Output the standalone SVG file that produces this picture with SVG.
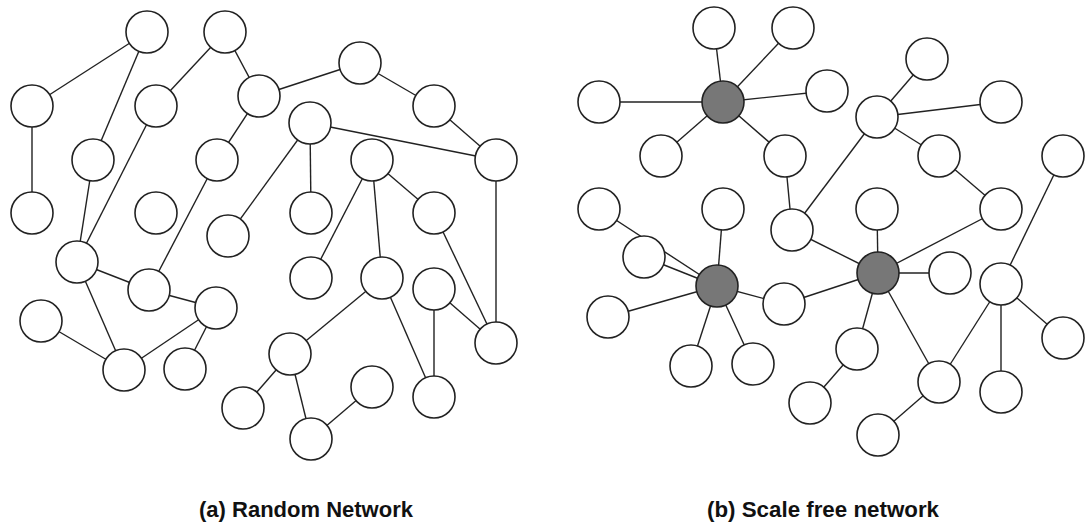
<svg xmlns="http://www.w3.org/2000/svg" width="1086" height="527" viewBox="0 0 1086 527">
<style>
.e{stroke:#222;stroke-width:1.4;fill:none}
.n circle{fill:#fff;stroke:#222;stroke-width:1.6}
.n circle.h{fill:#777}
.t{font-family:"Liberation Sans",Arial,sans-serif;font-weight:bold;font-size:22px;fill:#111}
</style>
<rect width="1086" height="527" fill="#fff"/>
<g id="connectors" class="e">
<!-- (a) -->
<line x1="147" y1="32" x2="32" y2="106"/>
<line x1="32" y1="106" x2="32" y2="213"/>
<line x1="147" y1="32" x2="93" y2="160"/>
<line x1="225" y1="32" x2="156" y2="106"/>
<line x1="225" y1="32" x2="259" y2="96"/>
<line x1="156" y1="106" x2="77" y2="262"/>
<line x1="93" y1="160" x2="77" y2="262"/>
<line x1="259" y1="96" x2="217" y2="160"/>
<line x1="217" y1="160" x2="149" y2="290"/>
<line x1="228" y1="236" x2="310" y2="123"/>
<line x1="259" y1="96" x2="360" y2="63"/>
<line x1="360" y1="63" x2="434" y2="106"/>
<line x1="434" y1="106" x2="496" y2="160"/>
<line x1="310" y1="123" x2="496" y2="160"/>
<line x1="310" y1="123" x2="311" y2="213"/>
<line x1="372" y1="160" x2="434" y2="213"/>
<line x1="372" y1="160" x2="311" y2="278"/>
<line x1="372" y1="160" x2="382" y2="278"/>
<line x1="496" y1="160" x2="496" y2="343"/>
<line x1="434" y1="213" x2="496" y2="343"/>
<line x1="434" y1="289" x2="434" y2="397"/>
<line x1="434" y1="289" x2="496" y2="343"/>
<line x1="382" y1="278" x2="434" y2="397"/>
<line x1="382" y1="278" x2="290" y2="354"/>
<line x1="290" y1="354" x2="311" y2="439"/>
<line x1="372" y1="387" x2="311" y2="439"/>
<line x1="290" y1="354" x2="243" y2="408"/>
<line x1="77" y1="262" x2="149" y2="290"/>
<line x1="77" y1="262" x2="124" y2="370"/>
<line x1="149" y1="290" x2="216" y2="308"/>
<line x1="216" y1="308" x2="124" y2="370"/>
<line x1="216" y1="308" x2="185" y2="369"/>
<line x1="41" y1="321" x2="124" y2="370"/>
<!-- (b) -->
<line x1="723" y1="102" x2="714" y2="28"/>
<line x1="723" y1="102" x2="793" y2="28"/>
<line x1="723" y1="102" x2="827" y2="91"/>
<line x1="723" y1="102" x2="599" y2="102"/>
<line x1="723" y1="102" x2="661" y2="156"/>
<line x1="723" y1="102" x2="785" y2="156"/>
<line x1="785" y1="156" x2="792" y2="230"/>
<line x1="792" y1="230" x2="877" y2="117"/>
<line x1="877" y1="117" x2="927" y2="59"/>
<line x1="877" y1="117" x2="1001" y2="102"/>
<line x1="877" y1="117" x2="939" y2="156"/>
<line x1="939" y1="156" x2="1001" y2="209"/>
<line x1="1001" y1="209" x2="878" y2="273"/>
<line x1="877" y1="209" x2="878" y2="273"/>
<line x1="1063" y1="156" x2="1001" y2="284"/>
<line x1="599" y1="209" x2="717" y2="286"/>
<line x1="723" y1="209" x2="717" y2="286"/>
<line x1="644" y1="257" x2="717" y2="286"/>
<line x1="608" y1="317" x2="717" y2="286"/>
<line x1="717" y1="286" x2="784" y2="304"/>
<line x1="717" y1="286" x2="691" y2="366"/>
<line x1="717" y1="286" x2="753" y2="364"/>
<line x1="784" y1="304" x2="878" y2="273"/>
<line x1="792" y1="230" x2="878" y2="273"/>
<line x1="878" y1="273" x2="950" y2="273"/>
<line x1="878" y1="273" x2="857" y2="349"/>
<line x1="878" y1="273" x2="939" y2="382"/>
<line x1="857" y1="349" x2="810" y2="403"/>
<line x1="939" y1="382" x2="878" y2="435"/>
<line x1="939" y1="382" x2="1001" y2="284"/>
<line x1="1001" y1="284" x2="1001" y2="392"/>
<line x1="1001" y1="284" x2="1063" y2="338"/>
</g>
<g class="n">
<g id="a1"><circle cx="147" cy="32" r="21"/></g>
<g id="a2"><circle cx="225" cy="32" r="21"/></g>
<g id="a3"><circle cx="32" cy="106" r="21"/></g>
<g id="a4"><circle cx="156" cy="106" r="21"/></g>
<g id="a5"><circle cx="259" cy="96" r="21"/></g>
<g id="a6"><circle cx="93" cy="160" r="21"/></g>
<g id="a7"><circle cx="217" cy="160" r="21"/></g>
<g id="a8"><circle cx="32" cy="213" r="21"/></g>
<g id="a9"><circle cx="156" cy="213" r="21"/></g>
<g id="a10"><circle cx="228" cy="236" r="21"/></g>
<g id="a11"><circle cx="77" cy="262" r="21"/></g>
<g id="a12"><circle cx="149" cy="290" r="21"/></g>
<g id="a13"><circle cx="216" cy="308" r="21"/></g>
<g id="a14"><circle cx="41" cy="321" r="21"/></g>
<g id="a15"><circle cx="124" cy="370" r="21"/></g>
<g id="a16"><circle cx="185" cy="369" r="21"/></g>
<g id="a17"><circle cx="243" cy="408" r="21"/></g>
<g id="a18"><circle cx="360" cy="63" r="21"/></g>
<g id="a19"><circle cx="434" cy="106" r="21"/></g>
<g id="a20"><circle cx="310" cy="123" r="21"/></g>
<g id="a21"><circle cx="372" cy="160" r="21"/></g>
<g id="a22"><circle cx="496" cy="160" r="21"/></g>
<g id="a23"><circle cx="311" cy="213" r="21"/></g>
<g id="a24"><circle cx="434" cy="213" r="21"/></g>
<g id="a25"><circle cx="311" cy="278" r="21"/></g>
<g id="a26"><circle cx="382" cy="278" r="21"/></g>
<g id="a27"><circle cx="434" cy="289" r="21"/></g>
<g id="a28"><circle cx="496" cy="343" r="21"/></g>
<g id="a29"><circle cx="290" cy="354" r="21"/></g>
<g id="a30"><circle cx="372" cy="387" r="21"/></g>
<g id="a31"><circle cx="434" cy="397" r="21"/></g>
<g id="a32"><circle cx="311" cy="439" r="21"/></g>

<g id="b1"><circle cx="714" cy="28" r="21"/></g>
<g id="b2"><circle cx="793" cy="28" r="21"/></g>
<g id="b3"><circle cx="599" cy="102" r="21"/></g>
<g id="b4"><circle class="h" cx="723" cy="102" r="21"/></g>
<g id="b5"><circle cx="827" cy="91" r="21"/></g>
<g id="b6"><circle cx="927" cy="59" r="21"/></g>
<g id="b7"><circle cx="1001" cy="102" r="21"/></g>
<g id="b8"><circle cx="877" cy="117" r="21"/></g>
<g id="b9"><circle cx="661" cy="156" r="21"/></g>
<g id="b10"><circle cx="785" cy="156" r="21"/></g>
<g id="b11"><circle cx="939" cy="156" r="21"/></g>
<g id="b12"><circle cx="1063" cy="156" r="21"/></g>
<g id="b13"><circle cx="599" cy="209" r="21"/></g>
<g id="b14"><circle cx="723" cy="209" r="21"/></g>
<g id="b15"><circle cx="792" cy="230" r="21"/></g>
<g id="b16"><circle cx="877" cy="209" r="21"/></g>
<g id="b17"><circle cx="1001" cy="209" r="21"/></g>
<g id="b18"><circle cx="644" cy="257" r="21"/></g>
<g id="b19"><circle class="h" cx="717" cy="286" r="21"/></g>
<g id="b20"><circle cx="608" cy="317" r="21"/></g>
<g id="b21"><circle cx="784" cy="304" r="21"/></g>
<g id="b22"><circle class="h" cx="878" cy="273" r="21"/></g>
<g id="b23"><circle cx="950" cy="273" r="21"/></g>
<g id="b24"><circle cx="1001" cy="284" r="21"/></g>
<g id="b25"><circle cx="1063" cy="338" r="21"/></g>
<g id="b26"><circle cx="857" cy="349" r="21"/></g>
<g id="b27"><circle cx="691" cy="366" r="21"/></g>
<g id="b28"><circle cx="753" cy="364" r="21"/></g>
<g id="b29"><circle cx="939" cy="382" r="21"/></g>
<g id="b30"><circle cx="1001" cy="392" r="21"/></g>
<g id="b31"><circle cx="810" cy="403" r="21"/></g>
<g id="b32"><circle cx="878" cy="435" r="21"/></g>
</g>
<text class="t" x="199" y="517" textLength="214" lengthAdjust="spacingAndGlyphs">(a) Random Network</text>
<text class="t" x="707" y="517" textLength="232" lengthAdjust="spacingAndGlyphs">(b) Scale free network</text>
</svg>
